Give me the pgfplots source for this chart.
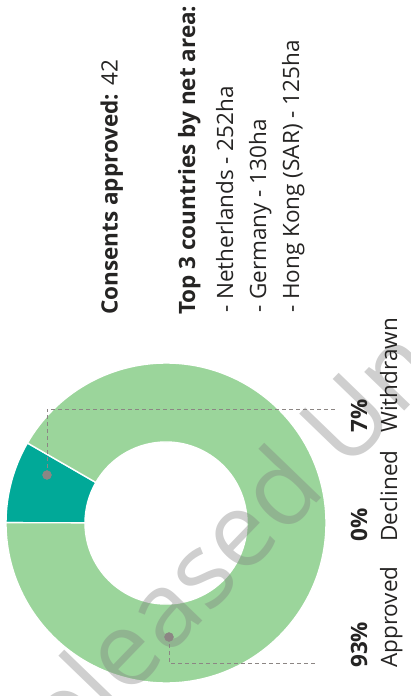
\documentclass[border=0pt]{standalone}
\usepackage{pgfplots}
\usepackage{pgfplotstable}
\pgfplotsset{compat=1.18}
\usepackage{fontspec}
\setmainfont{Open Sans}

\definecolor{approvedgreen}{HTML}{9BD59B}
\definecolor{withdrawnteal}{HTML}{01A998}
\definecolor{leadergray}{HTML}{8C8684}
\definecolor{txt}{HTML}{252423}

\tikzset{lbl/.style={inner sep=0pt, text=txt, anchor=base west, rotate=90,
  font=\fontsize{22.5}{26}\selectfont}}

% share of consents (per cent), as drawn in the ring
\pgfplotstableread{
status    share
Approved  91.7
Declined  0
Withdrawn 8.3
}\consents

\begin{document}
\begin{tikzpicture}
\useasboundingbox (0,0) rectangle (410pt,696pt);
\clip (0,0) rectangle (410pt,696pt);

\pgfplotstablegetelem{0}{share}\of\consents \let\shA\pgfplotsretval
\pgfplotstablegetelem{2}{share}\of\consents \let\shW\pgfplotsretval
% ring starts at 150 deg and runs counter-clockwise
\pgfmathsetmacro\aW{150}
\pgfmathsetmacro\aWe{\aW+3.6*\shW}
\pgfmathsetmacro\aAe{\aWe+3.6*\shA}
\def\Ro{160pt}\def\Ri{81pt}

\begin{axis}[
  at={(0,0)}, anchor=south west,
  scale only axis, width=410pt, height=696pt,
  xmin=0, xmax=410, ymin=0, ymax=696,
  hide axis, clip=false,
  ]
  % slices
  \fill[withdrawnteal, draw=white, line width=1.4pt]
    ([shift={(\aW:\Ro)}]axis cs:166,173) arc[start angle=\aW, end angle=\aWe, radius=\Ro]
    -- ([shift={(\aWe:\Ri)}]axis cs:166,173) arc[start angle=\aWe, end angle=\aW, radius=\Ri] -- cycle;
  \fill[approvedgreen, draw=white, line width=1.4pt]
    ([shift={(\aWe:\Ro)}]axis cs:166,173) arc[start angle=\aWe, end angle=\aAe, radius=\Ro]
    -- ([shift={(\aAe:\Ri)}]axis cs:166,173) arc[start angle=\aAe, end angle=\aWe, radius=\Ri] -- cycle;

  % leader lines and dots
  \addplot[leadergray, line width=0.9pt, dash pattern=on 4pt off 3pt] coordinates {(47,221) (47,287) (337,287)};
  \addplot[leadergray, line width=0.9pt, dash pattern=on 4pt off 3pt] coordinates {(169,59) (169,33) (317,33)};
  \addplot[only marks, mark=*, mark size=4.5pt, leadergray] coordinates {(47,221) (169,59)};

  % watermark
  \node[inner sep=0pt, anchor=base west, rotate=46, text=black!50, opacity=0.38,
        font=\fontsize{104}{110}\selectfont]
    at (axis cs:24,-110) {Released Under the Official Information Act};

  % legend
  \node[lbl, font=\fontsize{22.5}{26}\selectfont\bfseries] at (axis cs:367,28) {93\%};
  \node[lbl] at (axis cs:397,28) {Approved};
  \node[lbl, font=\fontsize{22.5}{26}\selectfont\bfseries] at (axis cs:367,154) {0\%};
  \node[lbl] at (axis cs:397,154) {Declined};
  \node[lbl, font=\fontsize{22.5}{26}\selectfont\bfseries] at (axis cs:367,263) {7\%};
  \node[lbl] at (axis cs:397,263) {Withdrawn};

  % side text
  \node[lbl] at (axis cs:117.5,381) {\textbf{Consents approved:} 42};
  \node[lbl, font=\fontsize{22.5}{26}\selectfont\bfseries] at (axis cs:195,381) {Top 3 countries by net area:};
  \node[lbl] at (axis cs:233,383) {- Netherlands - 252ha};
  \node[lbl] at (axis cs:266,383) {- Germany - 130ha};
  \node[lbl] at (axis cs:299,383) {- Hong Kong (SAR) - 125ha};
\end{axis}
\end{tikzpicture}
\end{document}
